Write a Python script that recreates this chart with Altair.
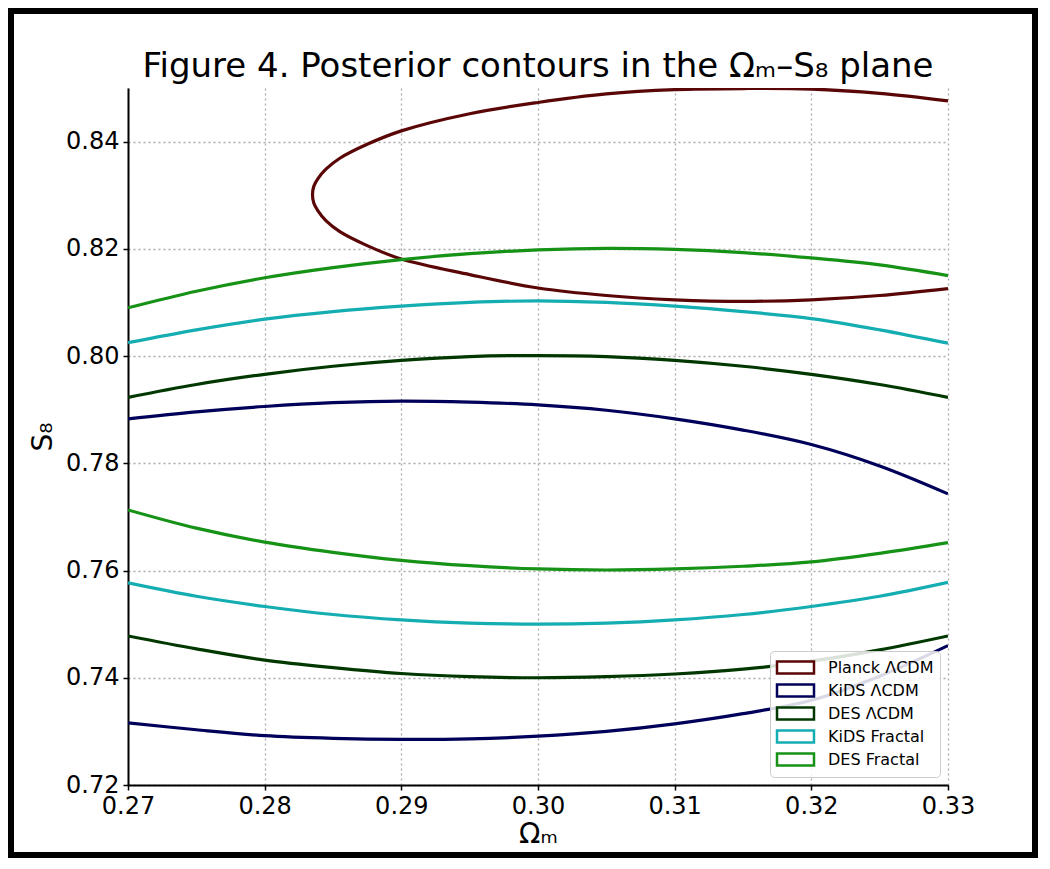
import altair as alt
import pandas as pd

# ---- data ----
series_names = ["Planck ΛCDM", "KiDS ΛCDM", "DES ΛCDM", "KiDS Fractal", "DES Fractal"]
series_colors = ["#5a0606", "#00005a", "#003800", "#14adb2", "#169216"]

x_grid = [0.270, 0.275, 0.280, 0.285, 0.290, 0.295, 0.300, 0.305, 0.310, 0.315, 0.320, 0.325, 0.330]

kids_lcdm_upper = [0.7883, 0.7896, 0.7906, 0.7913, 0.7916, 0.7914, 0.7909, 0.7899, 0.7883, 0.7862, 0.7835, 0.7795, 0.7743]
kids_lcdm_lower = [0.7316, 0.7303, 0.7292, 0.7287, 0.7285, 0.7286, 0.7291, 0.7300, 0.7314, 0.7333, 0.7358, 0.7403, 0.7460]

des_lcdm_upper = [0.7923, 0.7947, 0.7966, 0.7981, 0.7992, 0.7999, 0.8001, 0.7999, 0.7992, 0.7981, 0.7966, 0.7947, 0.7923]
des_lcdm_lower = [0.7478, 0.7454, 0.7433, 0.7419, 0.7408, 0.7402, 0.7400, 0.7402, 0.7407, 0.7416, 0.7431, 0.7452, 0.7478]

kids_frac_upper = [0.8025, 0.8049, 0.8069, 0.8083, 0.8093, 0.8100, 0.8103, 0.8100, 0.8093, 0.8083, 0.8070, 0.8049, 0.8024]
kids_frac_lower = [0.7577, 0.7552, 0.7533, 0.7518, 0.7508, 0.7502, 0.7500, 0.7502, 0.7508, 0.7518, 0.7533, 0.7552, 0.7578]

des_frac_upper = [0.8090, 0.8121, 0.8146, 0.8165, 0.8180, 0.8191, 0.8198, 0.8201, 0.8199, 0.8193, 0.8183, 0.8170, 0.8150]
des_frac_lower = [0.7713, 0.7679, 0.7653, 0.7634, 0.7619, 0.7609, 0.7603, 0.7601, 0.7603, 0.7608, 0.7616, 0.7632, 0.7652]

planck_x = [0.330, 0.325, 0.320, 0.315, 0.310, 0.305, 0.300, 0.295, 0.290, 0.2875, 0.2855, 0.2845, 0.2839, 0.2836, 0.2835,
            0.2836, 0.2839, 0.2845, 0.2855, 0.2875, 0.290, 0.295, 0.300, 0.305, 0.310, 0.315, 0.320, 0.325, 0.330]
planck_y = [0.8476, 0.8490, 0.8498, 0.8499, 0.8497, 0.8489, 0.8473, 0.8452, 0.8420, 0.8395, 0.8369, 0.8349, 0.8331, 0.8317, 0.8301,
            0.8285, 0.8271, 0.8252, 0.8232, 0.8206, 0.8181, 0.8152, 0.8127, 0.8113, 0.8105, 0.8102, 0.8105, 0.8113, 0.8126]

x_ticks = [0.27, 0.28, 0.29, 0.30, 0.31, 0.32, 0.33]
y_ticks = [0.72, 0.74, 0.76, 0.78, 0.80, 0.82, 0.84]

# ---- build table ----
rows = []


def add(series, seg, xs, ys):
    for i, (xv, yv) in enumerate(zip(xs, ys)):
        rows.append({"series": series, "seg": series + " " + seg, "om": xv, "s8": yv, "order": i})


add("Planck ΛCDM", "all", planck_x, planck_y)
add("KiDS ΛCDM", "upper", x_grid, kids_lcdm_upper)
add("KiDS ΛCDM", "lower", x_grid, kids_lcdm_lower)
add("DES ΛCDM", "upper", x_grid, des_lcdm_upper)
add("DES ΛCDM", "lower", x_grid, des_lcdm_lower)
add("KiDS Fractal", "upper", x_grid, kids_frac_upper)
add("KiDS Fractal", "lower", x_grid, kids_frac_lower)
add("DES Fractal", "upper", x_grid, des_frac_upper)
add("DES Fractal", "lower", x_grid, des_frac_lower)
df = pd.DataFrame(rows)

FONT = "DejaVu Sans"
W, H = 820, 697
PAD_L, PAD_T, PAD_R, PAD_B = 120, 80, 90, 73

lines = alt.Chart(df).mark_line(interpolate="catmull-rom", strokeWidth=3.2, clip=True).encode(
    x=alt.X("om:Q", scale=alt.Scale(domain=[0.27, 0.33], nice=False, zero=False),
            axis=alt.Axis(values=x_ticks, format=".2f", title="Ωₘ")),
    y=alt.Y("s8:Q", scale=alt.Scale(domain=[0.72, 0.85], nice=False, zero=False),
            axis=alt.Axis(values=y_ticks, format=".2f", title="S₈")),
    color=alt.Color("series:N", scale=alt.Scale(domain=series_names, range=series_colors),
                    sort=series_names,
                    legend=alt.Legend(title=None, orient="bottom-right")),
    detail="seg:N",
    order="order:Q",
)

frame = alt.Chart(pd.DataFrame({"k": [0]})).mark_rect(
    fillOpacity=0, stroke="black", strokeWidth=6, clip=False
).encode(
    x=alt.value(-PAD_L + 3), x2=alt.value(W + PAD_R - 3),
    y=alt.value(-PAD_T + 3), y2=alt.value(H + PAD_B - 3),
)

chart = alt.layer(lines, frame).properties(
    width=W, height=H,
    title=alt.TitleParams("Figure 4. Posterior contours in the Ωₘ–S₈ plane",
                          fontSize=34, font=FONT, fontWeight="normal", anchor="middle",
                          baseline="alphabetic", offset=-103, color="black"),
    autosize=alt.AutoSizeParams(type="none"),
    padding={"left": PAD_L, "top": PAD_T, "right": PAD_R, "bottom": PAD_B},
    background="white",
).configure_view(stroke=None).configure_axis(
    labelFont=FONT, labelFontSize=24, labelColor="black",
    titleFont=FONT, titleFontSize=28, titleFontWeight="normal", titleColor="black",
    domainColor="black", domainWidth=2, tickColor="black", tickSize=5, tickWidth=1.5,
    grid=True, gridColor="#aaaaaa", gridDash=[2, 3], gridWidth=1.3,
    labelFlush=False, labelOverlap=False, labelPadding=4,
).configure_axisX(titlePadding=2).configure_axisY(titlePadding=8).configure_legend(
    labelFont=FONT, labelFontSize=16, labelColor="black",
    symbolType="M-2,-0.64H2V0.64H-2Z", symbolSize=342, symbolStrokeWidth=2.5,
    symbolFillColor="white", symbolOffset=9, rowPadding=0, labelOffset=22, padding=6, offset=8,
    strokeColor="#cccccc", fillColor="rgba(255,255,255,0.85)", cornerRadius=4,
)

chart.save("out.html", embed_options={"renderer": "svg", "actions": False})
